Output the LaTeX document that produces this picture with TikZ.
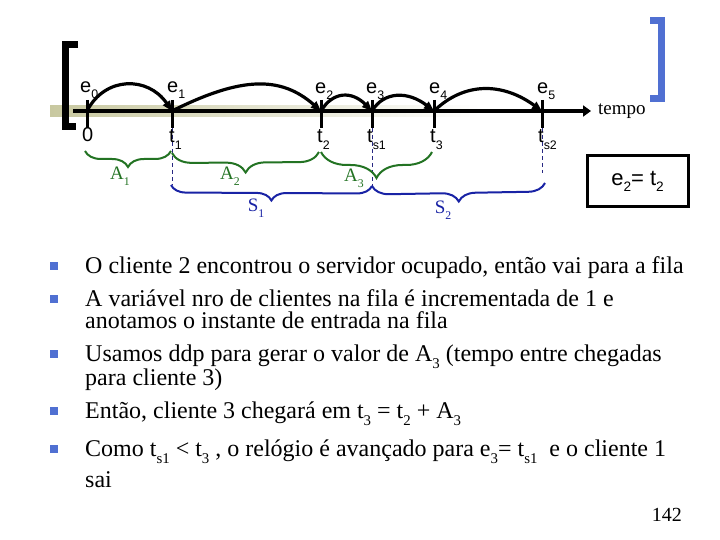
\documentclass[tikz,border=0pt]{standalone}
\usepackage{fontspec}
\usepackage{graphicx}
\setmainfont{Liberation Serif}
\newfontfamily\arialf{Liberation Sans}
\usetikzlibrary{arrows.meta,decorations.pathreplacing,calc}
\definecolor{brblue}{RGB}{80,112,210}
\definecolor{brgreen}{RGB}{35,115,35}
\definecolor{brnavy}{RGB}{25,35,165}
\definecolor{dashnavy}{RGB}{40,40,130}
\definecolor{khaki}{RGB}{200,200,160}
\newcommand\dn[1]{\raisebox{-0.3em}{\scalebox{0.62}{#1}}}
\begin{document}
\begin{tikzpicture}[x=1pt,y=-1pt,
  tickmark/.style={line width=3pt},
  toplab/.style={anchor=base west, inner sep=0pt, font=\arialf\fontsize{20}{22}\selectfont},
  hop/.style={line width=3.2pt, -{Triangle[length=10pt,width=8pt]}},
  gbrace/.style={decorate, decoration={brace,mirror,amplitude=#1}, draw=brgreen, line width=2pt},
  bbrace/.style={decorate, decoration={brace,mirror,amplitude=#1}, draw=brnavy, line width=2pt},
  glab/.style={text=brgreen, inner sep=0pt, font=\fontsize{19}{20}\selectfont},
  blab/.style={text=brnavy, inner sep=0pt, font=\fontsize{19}{20}\selectfont},
  guide/.style={dashnavy, line width=0.8pt, dash pattern=on 4pt off 3pt},
  btext/.style={anchor=base west, inner sep=0pt, font=\fontsize{24}{26}\selectfont},
  bmark/.style={fill=brblue, minimum size=8pt, inner sep=0pt}
]
\useasboundingbox (0,0) rectangle (720,540);
\fill[white] (0,0) rectangle (720,540);

% band behind axis
\shade[left color=khaki, right color=white] (50,106) rectangle (480,117);

% brackets
\draw[line width=7pt] (78,45) -- (65.5,45) -- (65.5,127) -- (76,127);
\draw[brblue, line width=7pt] (650,21) -- (661.5,21) -- (661.5,99) -- (650,99);

% tick positions
\coordinate (p0) at (87,111);
\coordinate (p1) at (172,111);
\coordinate (p2) at (321,111);
\coordinate (p3) at (372,111);
\coordinate (p4) at (434,111);
\coordinate (p5) at (542,111);
\coordinate (axs) at (73,111);
\coordinate (axe) at (591,111);

% axis
\draw[line width=4pt, -{Triangle[length=8pt,width=11pt]}] (axs) -- (axe);
\node[anchor=base west, inner sep=0pt, font=\fontsize{19}{22}\selectfont] (tempo) at (598,115) {tempo};

% ticks
\foreach \p in {p0,p1,p2,p3,p4,p5}
  \draw[tickmark] ($(\p)+(0,-11)$) -- ($(\p)+(0,17)$);

% guides
\draw[guide] ($(p1)+(0,17)$) -- ($(p1)+(0,74)$);
\draw[guide] ($(p3)+(0,17)$) -- ($(p3)+(0,76)$);
\draw[guide] ($(p5)+(0,17)$) -- ($(p5)+(0,62)$);

% hops
\draw[hop] (p0) .. controls ($(p0)+(18,-35)$) and ($(p1)+(-24,-35)$) .. (p1);
\draw[hop] (p1) .. controls ($(p1)+(70,-35)$) and ($(p2)+(-40,-35)$) .. (p2);
\draw[hop] (p2) .. controls ($(p2)+(12,-20)$) and ($(p3)+(-20,-20)$) .. (p3);
\draw[hop] (p3) .. controls ($(p3)+(12,-20)$) and ($(p4)+(-26,-20)$) .. (p4);
\draw[hop] (p4) .. controls ($(p4)+(30,-29)$) and ($(p5)+(-40,-29)$) .. (p5);

% top labels
\node[toplab] (le0) at (80,93) {e\dn{0}};
\node[toplab] (le1) at (167,93) {e\dn{1}};
\node[toplab] (le2) at (315,94) {e\dn{2}};
\node[toplab] (le3) at (366,94) {e\dn{3}};
\node[toplab] (le4) at (429,94) {e\dn{4}};
\node[toplab] (le5) at (537,94) {e\dn{5}};

% bottom labels
\node[toplab] (l0) at (82,142) {0};
\node[toplab] (lt1) at (169,143) {t\dn{1}};
\node[toplab] (lt2) at (317,143) {t\dn{2}};
\node[toplab] (lts1) at (367,143) {t\dn{s1}};
\node[toplab] (lt3) at (430,143) {t\dn{3}};
\node[toplab] (lts2) at (538,143) {t\dn{s2}};

% braces
\draw[gbrace=16pt] ($(p0)+(-2,40)$) -- ($(p1)+(-1,40)$);
\draw[gbrace=20pt] ($(p1)+(0,42)$) -- ($(p2)+(-2,41)$);
\draw[gbrace=26pt] ($(p2)+(0,41)$) -- ($(p4)+(-2,41)$);
\draw[bbrace=15pt] ($(p1)+(-1,74)$) -- ($(p3)+(0,75)$);
\draw[bbrace=17pt] ($(p3)+(0,75)$) -- ($(p5)+(3,72)$);

\node[glab] (la1) at (120,176) {A\dn{1}};
\node[glab] (la2) at (230,176) {A\dn{2}};
\node[glab] (la3) at (354,178) {A\dn{3}};
\node[blab] (ls1) at (256,208) {S\dn{1}};
\node[blab] (ls2) at (443,210) {S\dn{2}};

% equation box
\node[draw, line width=3pt, minimum width=101pt, minimum height=51pt, inner sep=0pt,
      font=\arialf\fontsize{22}{24}\selectfont] (eqbox) at (637.5,181.5) {e\dn{2}= t\dn{2}};

% bullets
\node[bmark] (b1) at (54,266) {};
\node[bmark] (b2) at (54,299) {};
\node[bmark] (b3) at (54,354) {};
\node[bmark] (b4) at (54,411) {};
\node[bmark] (b5) at (54,449) {};

\node[btext] (t1) at (85,273) {O cliente 2 encontrou o servidor ocupado, então vai para a fila};
\node[btext] (t2) at (85,306) {A variável nro de clientes na fila é incrementada de 1 e};
\node[btext] (t3) at (85,328) {anotamos o instante de entrada na fila};
\node[btext] (t4) at (85,361) {Usamos ddp para gerar o valor de A\dn{3} (tempo entre chegadas};
\node[btext] (t5) at (85,385) {para cliente 3)};
\node[btext] (t6) at (85,418) {Então, cliente 3 chegará em t\dn{3} = t\dn{2} + A\dn{3}};
\node[btext] (t7) at (85,456) {Como t\dn{s1} < t\dn{3} , o relógio é avançado para e\dn{3}= t\dn{s1}\ \ e o cliente 1};
\node[btext] (t8) at (85,487) {sai};

\node[anchor=base east, inner sep=0pt, font=\fontsize{20}{22}\selectfont] (pg) at (682,521) {142};
\end{tikzpicture}
\end{document}
